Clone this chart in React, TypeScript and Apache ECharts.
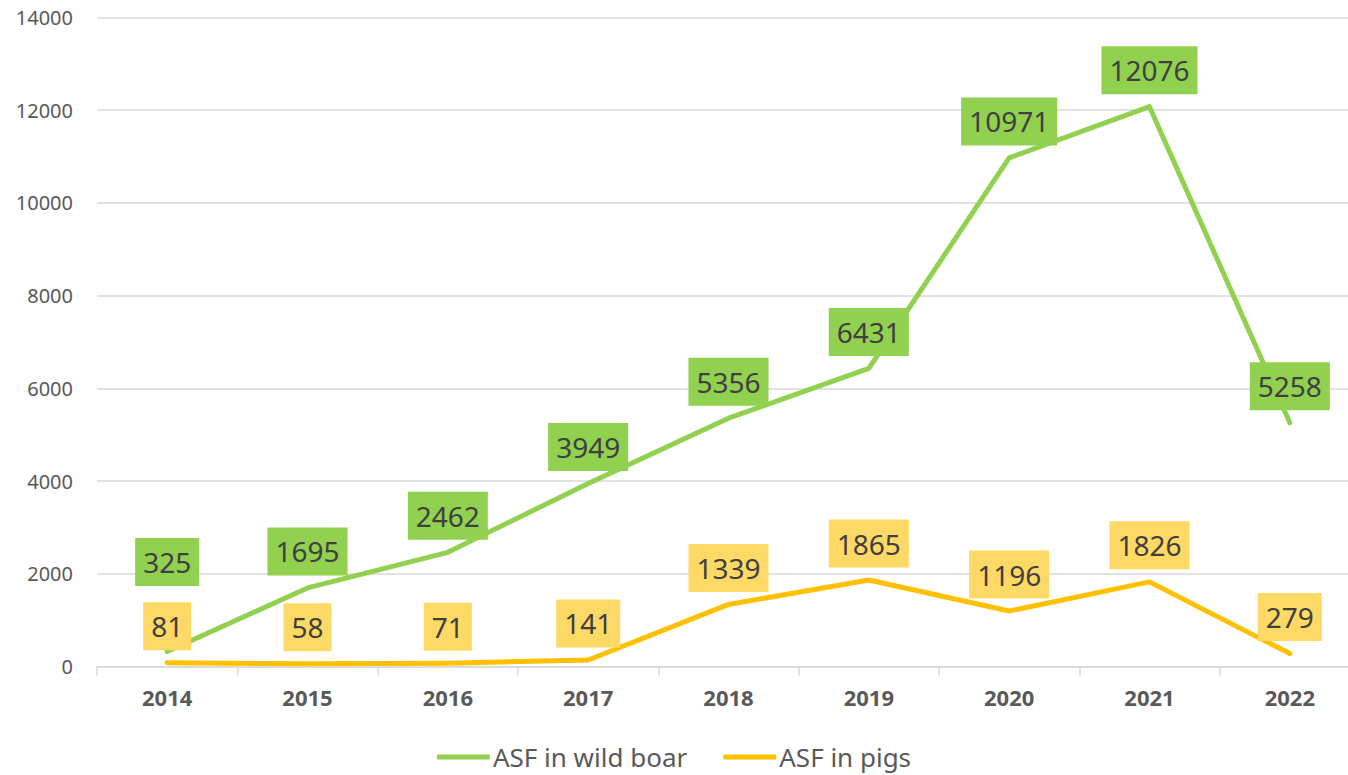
import React, { useEffect, useRef } from "react";
import * as echarts from "echarts";

const years = ["2014", "2015", "2016", "2017", "2018", "2019", "2020", "2021", "2022"];
const wildBoar = [325, 1695, 2462, 3949, 5356, 6431, 10971, 12076, 5258];
const pigs = [81, 58, 71, 141, 1339, 1865, 1196, 1826, 279];
const seriesNames = ["ASF in wild boar", "ASF in pigs"];

const FONT = "'Noto Sans', 'Open Sans', sans-serif";
const GREEN = "#92D050";
const YELLOW = "#FFC000";
const YELLOW_LABEL = "#FFD966";

export default function App() {
  const ref = useRef<HTMLDivElement>(null);
  useEffect(() => {
    if (!ref.current) return;
    const chart = echarts.init(ref.current, undefined, { renderer: "svg" });
    const labelBase = (bg: string) => ({
      show: true,
      position: "top" as const,
      distance: 12,
      fontFamily: FONT,
      fontSize: 28,
      lineHeight: 30,
      color: "#404040",
      backgroundColor: bg,
      padding: [9, 8, 9, 8],
    });
    chart.setOption({
      animation: false,
      backgroundColor: "#ffffff",
      grid: {
        left: 97,
        width: 1263,
        top: 17.5,
        bottom: 108.5,
        containLabel: false,
        outerBoundsMode: "none",
      },
      legend: {
        bottom: 0,
        left: "center",
        itemWidth: 53,
        itemHeight: 5,
        itemGap: 36,
        icon: "roundRect",
        textStyle: { fontFamily: FONT, fontSize: 26, color: "#595959", padding: [0, 0, 0, -2] },
        data: seriesNames,
      },
      xAxis: {
        type: "category",
        data: years,
        boundaryGap: true,
        axisLine: { lineStyle: { color: "#d9d9d9", width: 1.5 } },
        axisTick: { show: true, length: 9, lineStyle: { color: "#d9d9d9", width: 1.5 } },
        axisLabel: { fontFamily: FONT, fontSize: 22, fontWeight: "bold", color: "#595959", margin: 19 },
      },
      yAxis: {
        type: "value",
        min: 0,
        max: 14000,
        interval: 2000,
        axisLine: { show: false },
        axisTick: { show: false },
        splitLine: { lineStyle: { color: "#d9d9d9", width: 1.5 } },
        axisLabel: {
          fontFamily: FONT,
          fontSize: 20,
          color: "#595959",
          margin: 24,
          formatter: (v: number) => String(v),
        },
      },
      series: [
        {
          name: seriesNames[0],
          type: "line",
          data: wildBoar.map((v, i) =>
            i === 0 ? { value: v, label: { distance: 65 } } : v
          ),
          symbol: "circle",
          symbolSize: 1,
          itemStyle: { color: GREEN },
          lineStyle: { color: GREEN, width: 5, cap: "round", join: "round" },
          label: labelBase(GREEN),
          z: 2,
        },
        {
          name: seriesNames[1],
          type: "line",
          data: pigs,
          symbol: "circle",
          symbolSize: 1,
          itemStyle: { color: YELLOW },
          lineStyle: { color: YELLOW, width: 5, cap: "round", join: "round" },
          label: labelBase(YELLOW_LABEL),
          z: 3,
        },
      ],
    });
    return () => chart.dispose();
  }, []);
  return (
    <div
      ref={ref}
      style={{ position: "absolute", left: 0, top: 0, width: 1348, height: 775, overflow: "hidden" }}
    />
  );
}
